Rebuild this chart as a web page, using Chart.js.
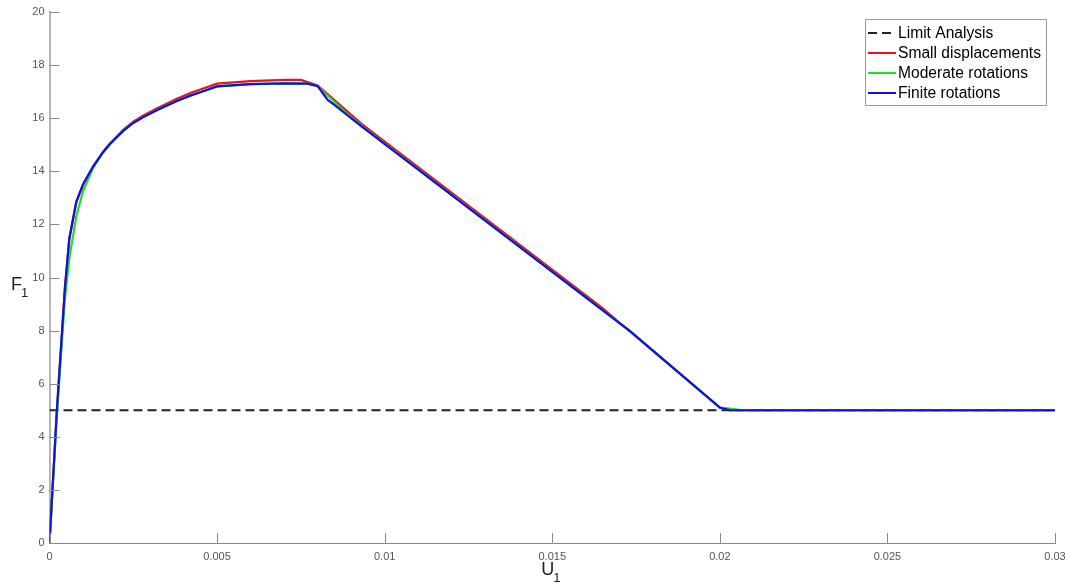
<!DOCTYPE html>
<html>
<head>
<meta charset="utf-8">
<script src="https://cdn.jsdelivr.net/npm/chart.js@4.4.1/dist/chart.umd.min.js"></script>
<style>
html,body{margin:0;padding:0;background:#fff;}
#wrap{width:1065px;height:584px;position:relative;}
</style>
</head>
<body>
<div id="wrap"><canvas id="c" width="1065" height="584"></canvas></div>
<script>
// ---- data ----
const seriesLabels = ['Limit Analysis', 'Small displacements', 'Moderate rotations', 'Finite rotations'];

const limitU = [0, 0.03];
const limitF = [5, 5];

const smallU = [0, 0.00022, 0.00046, 0.00059, 0.0008, 0.001, 0.0013, 0.0016, 0.0018, 0.002, 0.0022, 0.0025, 0.0028, 0.0032, 0.0038, 0.0042, 0.0045, 0.005, 0.006, 0.007, 0.0075, 0.008, 0.0088, 0.0093, 0.0165, 0.017, 0.0173, 0.0200, 0.0203, 0.03];
const smallF = [0, 5.0, 9.6, 11.45, 12.85, 13.5, 14.18, 14.74, 15.05, 15.3, 15.56, 15.87, 16.1, 16.37, 16.73, 16.95, 17.08, 17.3, 17.4, 17.44, 17.44, 17.23, 16.35, 15.8, 8.85, 8.3, 8.0, 5.1, 5.0, 5.0];

const moderateU = [0, 0.00022, 0.00046, 0.0006, 0.0008, 0.001, 0.0013, 0.0016, 0.0018, 0.002, 0.0022, 0.0025, 0.0028, 0.0032, 0.0038, 0.0042, 0.0045, 0.005, 0.006, 0.007, 0.0077, 0.008, 0.00876, 0.0093, 0.0173, 0.0200, 0.0203, 0.0207, 0.03];
const moderateF = [0, 4.8, 9.2, 10.8, 12.3, 13.25, 14.12, 14.72, 15.02, 15.27, 15.52, 15.82, 16.04, 16.3, 16.65, 16.85, 16.98, 17.2, 17.28, 17.31, 17.3, 17.21, 16.3, 15.72, 8.0, 5.1, 5.06, 5.0, 5.0];

const finiteU = [0, 0.00022, 0.00046, 0.00059, 0.0008, 0.001, 0.0013, 0.0016, 0.0018, 0.002, 0.0022, 0.0025, 0.0028, 0.0032, 0.0038, 0.0042, 0.0045, 0.005, 0.006, 0.007, 0.0077, 0.008, 0.0083, 0.0085, 0.0093, 0.0173, 0.0200, 0.0203, 0.03];
const finiteF = [0, 5.0, 9.6, 11.45, 12.85, 13.5, 14.18, 14.72, 15.02, 15.27, 15.52, 15.82, 16.04, 16.3, 16.65, 16.85, 16.98, 17.2, 17.28, 17.31, 17.3, 17.21, 16.69, 16.5, 15.7, 8.0, 5.1, 5.0, 5.0];

const xTicks = [0, 0.005, 0.01, 0.015, 0.02, 0.025, 0.03];
const xTickLabels = ['0', '0.005', '0.01', '0.015', '0.02', '0.025', '0.03'];
const yTicks = [0, 2, 4, 6, 8, 10, 12, 14, 16, 18, 20];
const yTickLabels = ['0', '2', '4', '6', '8', '10', '12', '14', '16', '18', '20'];

function pts(xs, ys) { return xs.map((x, i) => ({x: x, y: ys[i]})); }

const FONT = '"Liberation Sans", Arial, sans-serif';

const inwardTicks = {
  id: 'inwardTicks',
  afterDatasetsDraw(chart) {
    const ctx = chart.ctx, xs = chart.scales.x, ys = chart.scales.y;
    const a = chart.chartArea;
    ctx.save();
    ctx.strokeStyle = '#8a8a8a';
    ctx.lineWidth = 1;
    xTicks.forEach(v => {
      const px = Math.round(xs.getPixelForValue(v)) + 0.5;
      ctx.beginPath(); ctx.moveTo(px, a.bottom); ctx.lineTo(px, a.bottom - 10); ctx.stroke();
    });
    yTicks.forEach(v => {
      const py = Math.round(ys.getPixelForValue(v)) + 0.5;
      ctx.beginPath(); ctx.moveTo(a.left, py); ctx.lineTo(a.left + 10, py); ctx.stroke();
    });
    ctx.restore();
  }
};

const titles = {
  id: 'titles',
  afterDraw(chart) {
    const ctx = chart.ctx, a = chart.chartArea;
    ctx.save();
    ctx.fillStyle = '#222';
    ctx.textBaseline = 'alphabetic';
    ctx.font = '18px ' + FONT;
    const cx = (a.left + a.right) / 2;
    ctx.textAlign = 'left';
    ctx.fillText('U', cx - 11, 575);
    ctx.font = '13px ' + FONT;
    ctx.fillText('1', cx + 1, 582);
    ctx.font = '18px ' + FONT;
    ctx.fillText('F', 11, 290);
    ctx.font = '13px ' + FONT;
    ctx.fillText('1', 21, 297);
    ctx.restore();
  }
};

const legendBox = {
  id: 'legendBox',
  afterDraw(chart) {
    const ctx = chart.ctx;
    const ds = chart.data.datasets;
    const bx = 865.5, by = 19.5, bw = 181, bh = 86;
    ctx.save();
    ctx.fillStyle = '#fff';
    ctx.fillRect(bx, by, bw, bh);
    ctx.strokeStyle = '#9a9a9a';
    ctx.lineWidth = 1;
    ctx.strokeRect(bx, by, bw, bh);
    ctx.font = '15.6px ' + FONT;
    ctx.textBaseline = 'middle';
    ctx.textAlign = 'left';
    ds.forEach((d, i) => {
      const y = 33 + i * 20;
      ctx.strokeStyle = d.borderColor;
      ctx.lineWidth = 2;
      ctx.setLineDash(d.borderDash || []);
      ctx.beginPath(); ctx.moveTo(868, y); ctx.lineTo(896, y); ctx.stroke();
      ctx.setLineDash([]);
      ctx.fillStyle = '#000';
      ctx.fillText(d.label, 898, y + 1);
    });
    ctx.restore();
  }
};

new Chart(document.getElementById('c'), {
  type: 'scatter',
  data: {
    datasets: [
      {label: seriesLabels[0], data: pts(limitU, limitF), borderColor: '#222222', borderDash: [9, 5], order: 3},
      {label: seriesLabels[1], data: pts(smallU, smallF), borderColor: '#e8141c', order: 2},
      {label: seriesLabels[2], data: pts(moderateU, moderateF), borderColor: '#1fe01f', order: 1},
      {label: seriesLabels[3], data: pts(finiteU, finiteF), borderColor: '#1010e6', order: 0}
    ].map(d => Object.assign({showLine: true, pointRadius: 0, borderWidth: 2.2, tension: 0, fill: false}, d))
  },
  options: {
    responsive: false,
    animation: false,
    events: [],
    layout: {padding: {left: 0, right: 10, top: 12, bottom: 0}},
    plugins: {legend: {display: false}, tooltip: {enabled: false}},
    scales: {
      x: {
        type: 'linear', min: 0, max: 0.03,
        afterBuildTicks: s => { s.ticks = xTicks.map(v => ({value: v})); },
        afterFit: s => { s.height = 41; s.paddingLeft = 0; s.paddingRight = 0; },
        grid: {display: false, drawTicks: false},
        border: {display: true, color: '#8a8a8a', width: 1},
        ticks: {
          autoSkip: false, maxRotation: 0, padding: 7,
          color: '#555', font: {family: FONT, size: 11},
          callback: (v) => { const i = xTicks.findIndex(t => Math.abs(t - v) < 1e-9); return i >= 0 ? xTickLabels[i] : ''; }
        }
      },
      y: {
        type: 'linear', min: 0, max: 20,
        afterBuildTicks: s => { s.ticks = yTicks.map(v => ({value: v})); },
        afterFit: s => { s.width = 49.5; s.paddingTop = 0; s.paddingBottom = 0; },
        grid: {display: false, drawTicks: false},
        border: {display: true, color: '#b5b5b5', width: 2},
        ticks: {
          autoSkip: false, padding: 5,
          color: '#555', font: {family: FONT, size: 11},
          callback: (v) => { const i = yTicks.indexOf(v); return i >= 0 ? yTickLabels[i] : ''; }
        }
      }
    }
  },
  plugins: [inwardTicks, titles, legendBox]
});
</script>
</body>
</html>
